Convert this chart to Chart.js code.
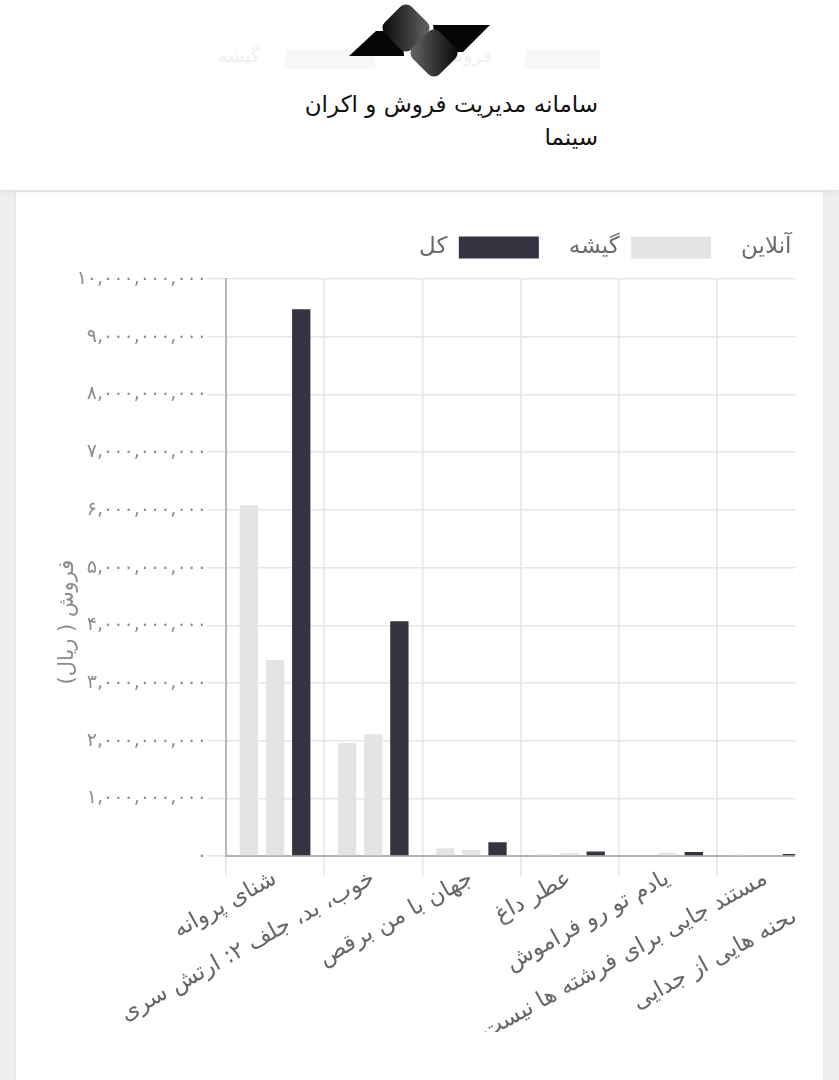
<!DOCTYPE html>
<html lang="fa">
<head>
<meta charset="utf-8">
<title>فروش فیلم ها</title>
<script src="https://cdn.jsdelivr.net/npm/chart.js@4.4.1/dist/chart.umd.min.js"></script>
<style>
  html, body { margin: 0; padding: 0; }
  body {
    width: 839px; height: 1080px; overflow: hidden; position: relative;
    background: #efefef; font-family: "DejaVu Sans", sans-serif;
  }
  .header {
    position: absolute; left: 0; top: 0; width: 839px; height: 190px;
    background: #fff; box-shadow: 0 2px 6px rgba(0, 0, 0, 0.07); z-index: 2;
  }
  .ghost { position: absolute; top: 44px; color: #f0f0f0; font-size: 19px; direction: rtl; }
  .ghost-box { position: absolute; top: 49px; height: 20px; background: #f8f8f8; }
  .logo { position: absolute; left: 340px; top: 0; }
  .site-title {
    position: absolute; right: 241px; top: 88px; direction: rtl; text-align: right;
    font-size: 23px; line-height: 33px; color: #111; white-space: nowrap;
  }
  .card {
    position: absolute; left: 16px; top: 192px; width: 807px; height: 900px;
    background: #fff; box-shadow: 0 0 4px rgba(0, 0, 0, 0.06);
  }
  /* the chart is wider than the card, the page only shows its left part */
  .chart-clip { position: absolute; left: 0; top: 0; width: 779px; height: 888px; overflow: hidden; }
  #salesChart { position: absolute; left: 34px; top: 14px; }
</style>
</head>
<body>
<div class="header">
  <div class="ghost-box" style="left:285px;width:90px"></div>
  <div class="ghost-box" style="left:525px;width:75px"></div>
  <div class="ghost" style="left:218px">گیشه</div>
  <div class="ghost" style="left:440px">فروش</div>
  <svg class="logo" width="160" height="82" viewBox="340 0 160 82">
    <defs>
      <linearGradient id="foldTop" x1="0" y1="1" x2="1" y2="0">
        <stop offset="0" stop-color="#050505"/>
        <stop offset="1" stop-color="#6a6a6a"/>
      </linearGradient>
      <linearGradient id="foldBottom" x1="1" y1="0" x2="0" y2="1">
        <stop offset="0" stop-color="#050505"/>
        <stop offset="1" stop-color="#6a6a6a"/>
      </linearGradient>
    </defs>
    <polygon points="349,56 376,31 402,31 404,56" fill="#050505"/>
    <polygon points="433,25 490,25 463,52 437,52" fill="#050505"/>
    <rect x="387" y="9" width="38" height="38" rx="8" fill="url(#foldTop)" transform="rotate(45 406 28)"/>
    <rect x="415" y="34" width="38" height="38" rx="8" fill="url(#foldBottom)" transform="rotate(45 434 53)"/>
  </svg>
  <div class="site-title">سامانه مدیریت فروش و اکران<br>سینما</div>
</div>

<div class="card">
  <div class="chart-clip">
    <canvas id="salesChart" width="863" height="826" dir="rtl"></canvas>
  </div>
</div>

<script>
// movie titles on the x axis
const movieTitles = [
  'شنای پروانه',
  'خوب، بد، جلف ۲: ارتش سری',
  'جهان با من برقص',
  'عطر داغ',
  'یادم تو رو فراموش',
  'مستند جایی برای فرشته ها نیست',
  'مستند صحنه هایی از جدایی'
];

const seriesNames = ['آنلاین', 'گیشه', 'کل'];

// sales in rial
const onlineSales = [6080000000, 1960000000, 135000000, 30000000, 15000000, 20000000, 10000000];
const boxOfficeSales = [3400000000, 2110000000, 105000000, 50000000, 55000000, 15000000, 5000000];
const totalSales = [9480000000, 4070000000, 240000000, 80000000, 70000000, 35000000, 15000000];

const yTickLabels = [
  '۰', '۱,۰۰۰,۰۰۰,۰۰۰', '۲,۰۰۰,۰۰۰,۰۰۰', '۳,۰۰۰,۰۰۰,۰۰۰', '۴,۰۰۰,۰۰۰,۰۰۰', '۵,۰۰۰,۰۰۰,۰۰۰',
  '۶,۰۰۰,۰۰۰,۰۰۰', '۷,۰۰۰,۰۰۰,۰۰۰', '۸,۰۰۰,۰۰۰,۰۰۰', '۹,۰۰۰,۰۰۰,۰۰۰', '۱۰,۰۰۰,۰۰۰,۰۰۰'
];
const yAxisTitle = 'فروش ( ریال)';

Chart.defaults.font.family = '"DejaVu Sans", sans-serif';

// the page draws the y title over the tick labels, so it is drawn by hand here
const yTitlePlugin = {
  id: 'yTitle',
  afterDraw(chart) {
    const { ctx, chartArea } = chart;
    ctx.save();
    ctx.translate(chartArea.left - 158, chartArea.bottom - 234);
    ctx.rotate(-Math.PI / 2);
    ctx.direction = 'rtl';
    ctx.textAlign = 'center';
    ctx.textBaseline = 'middle';
    ctx.fillStyle = '#8a8a8a';
    ctx.font = '21px "DejaVu Sans", sans-serif';
    ctx.fillText(yAxisTitle, 0, 0);
    ctx.restore();
  }
};

const ctx = document.getElementById('salesChart').getContext('2d');
new Chart(ctx, {
  type: 'bar',
  data: {
    labels: movieTitles,
    datasets: [
      { label: seriesNames[0], data: onlineSales, backgroundColor: '#e4e4e4' },
      { label: seriesNames[1], data: boxOfficeSales, backgroundColor: '#e4e4e4' },
      { label: seriesNames[2], data: totalSales, backgroundColor: '#34333f' }
    ]
  },
  options: {
    responsive: false,
    animation: false,
    categoryPercentage: 0.8,
    barPercentage: 0.7,
    plugins: {
      legend: {
        position: 'top',
        align: 'start',
        fullSize: false,
        rtl: true,
        textDirection: 'rtl',
        labels: {
          boxWidth: 80,
          boxHeight: 22,
          padding: 30,
          color: '#6b6b6b',
          font: { size: 23 }
        }
      },
      // empty title used only as a gap between legend and plot
      title: { display: true, text: '', weight: 500, padding: 0, font: { size: 8.5 } },
      tooltip: { enabled: false }
    },
    scales: {
      x: {
        afterFit: (axis) => { axis.height = 176; },
        grid: { color: '#e6e6e6', lineWidth: 1.5, tickLength: 20 },
        border: { color: '#b3b3b3', width: 2 },
        ticks: {
          autoSkip: false,
          minRotation: 29,
          maxRotation: 29,
          padding: -11,
          color: '#666',
          font: { size: 23 }
        }
      },
      y: {
        min: 0,
        max: 10000000000,
        afterFit: (axis) => { axis.width = 176; },
        grid: { color: '#e6e6e6', lineWidth: 1.5, tickLength: 19 },
        border: { color: '#b8b8b8', width: 2 },
        ticks: {
          stepSize: 1000000000,
          padding: 0,
          color: '#8c8c8c',
          font: { size: 19 },
          callback: (value, index) => yTickLabels[index]
        }
      }
    }
  },
  plugins: [yTitlePlugin]
});
</script>
</body>
</html>
